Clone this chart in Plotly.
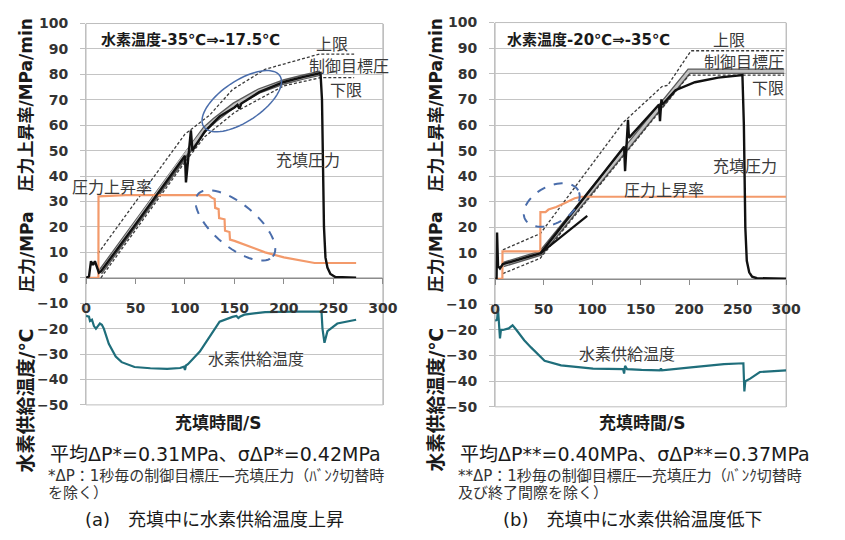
import numpy as np
import plotly.graph_objects as go

W, H = 845, 540

# ---------------- (a) supply temperature rising during fill ----------------
t_press_a = [0, 3, 5, 7, 9, 13, 15, 50, 100, 101, 106, 107.5, 120, 135, 150, 153,
             155, 157, 175, 200, 220, 237, 238.5, 240.5, 242, 244, 247, 252, 273]
p_press_a = [0, 0.5, 6.5, 5, 6.5, 2, 2.5, 21, 48, 37.5, 58, 50, 57.5, 63.5, 67, 68,
             66.5, 68.5, 73, 77, 79, 80.5, 70, 20, 8, 4, 1.5, 0.3, 0]

t_target_a = [14, 100, 120, 130, 150, 175, 200, 220, 237]
p_target_a = [2, 48.5, 58.5, 62, 68, 73.5, 77, 79, 80.5]

t_upper_a = [12, 100, 125, 148, 181, 236, 271]
p_upper_a = [9.5, 56.5, 64, 74, 82, 88, 88]

t_lower_a = [15, 100, 120, 150, 200, 237, 271]
p_lower_a = [0, 45.5, 55.5, 65, 75.5, 78.7, 78.7]

t_rate_a = [0, 12.5, 12.6, 40, 124, 127, 130, 130.5, 134, 134.5, 140, 140.5, 145,
            145.5, 150, 160, 181, 200, 215, 231, 273]
r_rate_a = [0, 0, 32, 32.5, 32.5, 31.5, 31, 27.5, 27, 23.5, 23, 18.5, 18,
            15, 14.5, 13, 10, 8, 6.8, 5.8, 5.8]

t_temp_a = [0, 3, 4, 6, 8, 10, 12, 14, 16, 18, 23, 30, 36, 49, 65, 82, 95, 99, 100,
            101, 103, 108, 115, 122, 135, 148, 152, 154, 156, 160, 181, 210, 238,
            239, 241, 244, 254, 273]
v_temp_a = [-15, -15.3, -17, -16.5, -19, -20, -19, -18, -18.5, -20, -26, -31, -33.2,
            -35.1, -35.6, -35.8, -35.5, -35, -36.3, -34.5, -34, -32, -29, -24.9,
            -17.3, -15.4, -15, -15.8, -15.2, -14.5, -13.5, -13.3, -13.3, -20, -25.6,
            -21, -18, -16.5]

# ---------------- (b) supply temperature falling during fill ----------------
t_press_b = [0, 1.5, 2, 3, 5, 8, 47, 133, 134, 137, 138, 169, 170, 171.5, 172.5,
             186, 206, 230, 255, 256.5, 258, 259.5, 262, 265, 270, 300]
p_press_b = [0, 0, 18, 5, 4, 5.7, 10, 51.5, 42, 62, 55, 68, 61.5, 70, 68,
             73.6, 76.7, 78.5, 79.5, 60, 20, 7, 2.5, 0.8, 0.2, 0]

t_slope_b = [47, 95]
p_slope_b = [10, 24.5]

t_target_b = [8, 47, 200, 298]
p_target_b = [5.5, 10, 81, 81]

t_upper_b = [8, 46.6, 132, 172, 178, 202, 298]
p_upper_b = [11.3, 17.6, 61, 75, 75.5, 89, 89]

t_lower_b = [8, 46.6, 200, 298]
p_lower_b = [2, 8, 79.5, 79.5]

t_rate_b = [0, 7.5, 7.6, 46.6, 46.7, 52, 55, 63, 72, 82, 89, 300]
r_rate_b = [0, 0, 10.7, 10.7, 26, 26, 27, 28, 29.6, 31.4, 32, 32]

t_temp_b = [0, 2, 3, 3.5, 5, 6, 8, 14, 18, 22, 30, 37, 51, 68, 101, 132, 133, 134,
            136, 151, 170, 171, 172, 202, 236, 256, 257, 258, 263, 273, 300]
v_temp_b = [-16.4, -16, -12, -15, -23.3, -20, -20, -19.4, -18.2, -20, -24, -26.8,
            -32, -33.8, -35.1, -35.3, -37, -34, -35.3, -35.6, -35.8, -35, -35.8,
            -34.6, -33.3, -33, -44, -40, -39, -36.4, -35.8]

x_ticks = [0, 50, 100, 150, 200, 250, 300]
X_RANGE = [0, 300]
Y_RANGE = [-50, 100]

FONT = "DejaVu Sans, Noto Sans CJK JP"
BLACK = "#111111"
ORANGE = "#f39a6b"
TEAL = "#1f6e7b"
GRID = "#c4c4c4"
BLUE = "#4a6dab"

# plot-area boxes in pixels
BOX = {
    "a": dict(L=83, R=387, T=16, B=409),
    "b": dict(L=502, R=800, T=15, B=411),
}
AX = {"a": ("x", "y"), "b": ("x2", "y2")}


def px_to_data(p, x, y):
    b = BOX[p]
    t = X_RANGE[0] + (x - b["L"]) / (b["R"] - b["L"]) * (X_RANGE[1] - X_RANGE[0])
    v = Y_RANGE[1] - (y - b["T"]) / (b["B"] - b["T"]) * (Y_RANGE[1] - Y_RANGE[0])
    return t, v


def ellipse_path(p, cx, cy, a, b, ang):
    th = np.radians(ang)
    phi = np.linspace(0, 2 * np.pi, 73)
    xs = cx + a * np.cos(th) * np.cos(phi) - b * np.sin(th) * np.sin(phi)
    ys = cy - (a * np.sin(th) * np.cos(phi) + b * np.cos(th) * np.sin(phi))
    pts = [px_to_data(p, x, y) for x, y in zip(xs, ys)]
    return "M " + " L ".join(f"{t:.3f},{v:.3f}" for t, v in pts) + " Z"


fig = go.Figure()


def add_line(p, x, y, color, width, dash="solid"):
    xa, ya = AX[p]
    fig.add_trace(go.Scatter(x=x, y=y, xaxis=xa, yaxis=ya, mode="lines",
                             line=dict(color=color, width=width, dash=dash),
                             showlegend=False, hoverinfo="skip"))


def add_panel(p, target, upper, lower, rate, press, temp):
    # control target pressure: grey band with dark edges
    add_line(p, target[0], target[1], "#5a5a5a", 5.5)
    add_line(p, target[0], target[1], "#c2c2c2", 2.8)
    add_line(p, upper[0], upper[1], "#3a3a3a", 1.3, "3px,2px")
    add_line(p, lower[0], lower[1], "#3a3a3a", 1.3, "3px,2px")
    add_line(p, rate[0], rate[1], ORANGE, 2.2)
    add_line(p, press[0], press[1], BLACK, 2.4)
    add_line(p, temp[0], temp[1], TEAL, 2.2)


add_panel("a", (t_target_a, p_target_a), (t_upper_a, p_upper_a),
          (t_lower_a, p_lower_a), (t_rate_a, r_rate_a),
          (t_press_a, p_press_a), (t_temp_a, v_temp_a))
add_panel("b", (t_target_b, p_target_b), (t_upper_b, p_upper_b),
          (t_lower_b, p_lower_b), (t_rate_b, r_rate_b),
          (t_press_b, p_press_b), (t_temp_b, v_temp_b))
add_line("b", t_slope_b, p_slope_b, BLACK, 2.2)

tickfont = dict(family=FONT, size=14, color="#333333", weight="bold")
layout = dict(width=W, height=H, autosize=False,
              margin=dict(l=0, r=0, t=0, b=0),
              paper_bgcolor="white", plot_bgcolor="white", showlegend=False)

shapes = []
for p, suffix in (("a", ""), ("b", "2")):
    b = BOX[p]
    y0px = b["T"] + (Y_RANGE[1] - 0) / (Y_RANGE[1] - Y_RANGE[0]) * (b["B"] - b["T"])
    layout["xaxis" + suffix] = dict(
        domain=[b["L"] / W, b["R"] / W], range=X_RANGE, anchor="free",
        position=1 - y0px / H, showline=True, linecolor="#8c8c8c", linewidth=1,
        ticks="outside", ticklen=5, tickcolor="#8c8c8c", tickvals=x_ticks,
        showgrid=False, zeroline=False, tickfont=tickfont, ticklabelstandoff=12,
        fixedrange=True)
    layout["yaxis" + suffix] = dict(
        domain=[1 - b["B"] / H, 1 - b["T"] / H], range=Y_RANGE, anchor="x" + suffix,
        dtick=10, showgrid=True, gridcolor=GRID, gridwidth=1, ticks="outside",
        ticklen=5, tickcolor="#bfbfbf", showline=True, linecolor="#bfbfbf",
        mirror=True, zeroline=False, tickfont=tickfont, ticklabelstandoff=9,
        fixedrange=True)
    shapes.append(dict(type="rect", xref="x" + suffix + " domain",
                       yref="y" + suffix + " domain", x0=0, x1=1, y0=0, y1=1,
                       line=dict(color="#bdbdbd", width=1), layer="below"))

shapes.append(dict(type="path", xref="x", yref="y",
                   path=ellipse_path("a", 242.5, 96, 47, 21, 34),
                   line=dict(color=BLUE, width=1.5)))
shapes.append(dict(type="path", xref="x", yref="y",
                   path=ellipse_path("a", 236, 224, 50, 22, -40),
                   line=dict(color=BLUE, width=2, dash="dash")))
shapes.append(dict(type="path", xref="x2", yref="y2",
                   path=ellipse_path("b", 560, 203, 31, 19, 29),
                   line=dict(color=BLUE, width=2, dash="dash")))
layout["shapes"] = shapes

annotations = []


def note(text, x, y, size, color="#3a3a3a", anchor="center", bold=False, angle=0):
    annotations.append(dict(
        text=text, x=x / W, y=1 - y / H, xref="paper", yref="paper",
        xanchor=anchor, yanchor="middle", showarrow=False, textangle=angle,
        borderpad=0,
        font=dict(family=FONT, size=size, color=color,
                  weight="bold" if bold else "normal")))


# labels inside panel (a)
note("水素温度-35℃⇒-17.5℃", 97, 33, 15, "#1a1a1a", "left", True)
note("上限", 335, 38, 16)
note("制御目標圧", 352, 60, 16)
note("下限", 349, 85, 16)
note("充填圧力", 310, 157, 16)
note("圧力上昇率", 110, 185, 16)
note("水素供給温度", 257, 362, 16)
# labels inside panel (b)
note("水素温度-20℃⇒-35℃", 513, 33, 15, "#1a1a1a", "left", True)
note("上限", 742, 33, 16)
note("制御目標圧", 757, 56, 16)
note("下限", 781, 83, 16)
note("充填圧力", 758, 163, 16)
note("圧力上昇率", 675, 188, 16)
note("水素供給温度", 637, 357, 16)

for cx in (22, 441):
    note("圧力上昇率/MPa/min", cx, 100, 17, "#1a1a1a", bold=True, angle=-90)
    note("圧力/MPa", cx, 251, 17, "#1a1a1a", bold=True, angle=-90)
    note("水素供給温度/℃", cx, 404, 19, "#1a1a1a", bold=True, angle=-90)

note("充填時間/S", 218, 428, 17, "#1a1a1a", bold=True)
note("充填時間/S", 652, 428, 17, "#1a1a1a", bold=True)

note("平均ΔP*=0.31MPa、σΔP*=0.42MPa", 45, 460, 19, "#1a1a1a", "left")
note("平均ΔP**=0.40MPa、σΔP**=0.37MPa", 465, 460, 19, "#1a1a1a", "left")
note("*ΔP：1秒毎の制御目標圧―充填圧力（ﾊﾞﾝｸ切替時", 43, 482, 15, "#333333", "left")
note("を除く）", 43, 500, 15, "#333333", "left")
note("**ΔP：1秒毎の制御目標圧―充填圧力（ﾊﾞﾝｸ切替時", 463, 482, 15, "#333333", "left")
note("及び終了間際を除く）", 463, 500, 15, "#333333", "left")
note("(a)　充填中に水素供給温度上昇", 215, 527, 18, "#1a1a1a")
note("(b)　充填中に水素供給温度低下", 643, 527, 18, "#1a1a1a")

layout["annotations"] = annotations
fig.update_layout(**layout)
fig.write_html("out.html")
